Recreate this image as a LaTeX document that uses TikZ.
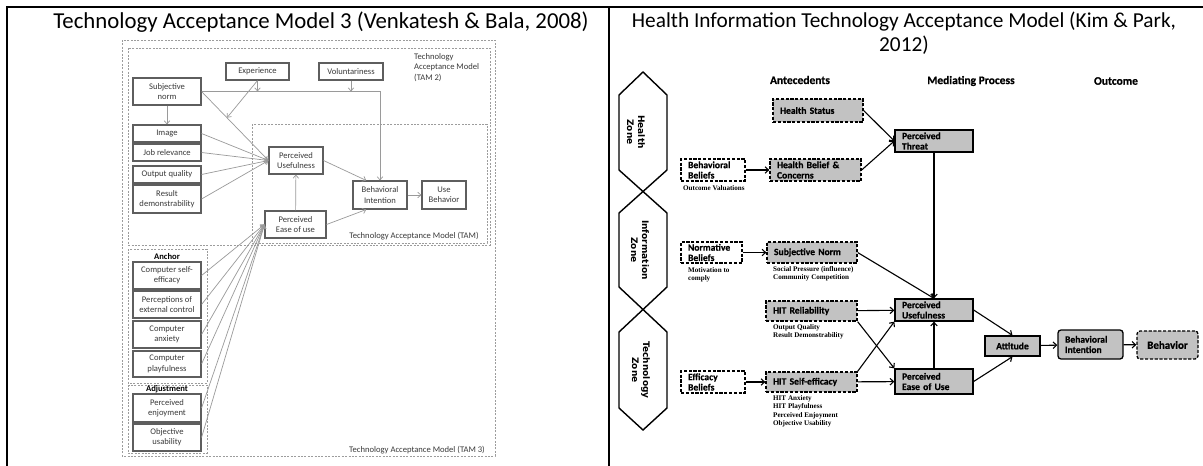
\documentclass[tikz,border=0pt]{standalone}
\usepackage{fontspec}
\setmainfont{Carlito}
\newfontfamily\subfont{Liberation Serif}
\newfontfamily\zonefont{DejaVu Sans}
\newfontfamily\boxfont{Carlito}[BoldFeatures={FakeBold=0.6}]
\usetikzlibrary{arrows.meta,calc}
\newcommand\myfs[2]{\fontsize{#1}{#2}\selectfont}
\definecolor{boxline}{HTML}{5E5E5E}
\definecolor{tamtext}{HTML}{3A3A3A}
\definecolor{grpline}{HTML}{9C9C9C}
\definecolor{arrline}{HTML}{9A9A9A}
\definecolor{hfill}{HTML}{C2C2C2}
% box given by its corners: name, x1, y1, x2, y2, style, text
\newcommand\rbox[7]{%
  \pgfmathsetmacro\bw{#4-#2}\pgfmathsetmacro\bh{#5-#3}%
  \pgfmathsetmacro\bx{(#2+#4)/2}\pgfmathsetmacro\by{(#3+#5)/2}%
  \pgfmathsetmacro\tw{#4-#2-14}%
  \node[#6, minimum width=\bw pt, minimum height=\bh pt] (#1) at (\bx,\by) {#7};}
\begin{document}
\begin{tikzpicture}[x=1pt,y=-1pt,
  tbox/.style={draw=boxline,line width=1.1pt,fill=white,text=tamtext,inner sep=0pt,align=center,font=\myfs{8.6}{10.4}},
  grp/.style={draw=grpline,line width=0.6pt,dash pattern=on 2pt off 1.4pt},
  glabel/.style={text=tamtext,inner sep=0pt,font=\myfs{8.6}{10.5}},
  garr/.style={draw=arrline,line width=0.7pt,-{Straight Barb[length=3.2pt,width=5.5pt]}},
  hbase/.style={draw=black,line width=1.3pt,inner sep=0pt,font=\boxfont\bfseries\myfs{9.6}{10.3}},
  dwhite/.style={hbase,fill=white,dash pattern=on 3.2pt off 1.6pt},
  dgray/.style={hbase,fill=hfill,dash pattern=on 3.2pt off 1.6pt},
  sgray/.style={hbase,fill=hfill},
  lft/.style={text width=\tw pt,inner xsep=7pt,align=left},
  ctr/.style={align=center},
  harr/.style={draw=black,line width=1.1pt,-{Straight Barb[length=3.5pt,width=6.5pt]}},
  sub/.style={inner sep=0pt,anchor=north west,align=left,font=\subfont\bfseries\myfs{7.1}{8.5}},
  head/.style={inner sep=0pt,font=\boxfont\bfseries\myfs{11.5}{13}},
  zone/.style={rotate=-90,align=center,inner sep=0pt,font=\zonefont\bfseries\myfs{9}{11}},
  title/.style={inner sep=0pt,align=center}]
\useasboundingbox (0,0) rectangle (1203,466);
\fill[white] (0,0) rectangle (1203,466);

% table rules
\draw[line width=1.3pt] (7,466) -- (7,7) -- (1203,7);
\draw[line width=1.3pt] (609,7) -- (609,466);

% titles
\node[title,font=\myfs{22.8}{24}] (t1) at (321,22) {Technology Acceptance Model 3 (Venkatesh \& Bala, 2008)};
\node[title,font=\myfs{21.3}{24}] (t2) at (904,33) {Health Information Technology Acceptance Model (Kim \& Park,\\2012)};

% ---------------- TAM 3 ----------------
\draw[grp] (122,40) rectangle (495,456);
\draw[grp] (128,48) rectangle (490,245);
\draw[grp] (252,124) rectangle (487,243);
\draw[grp] (128,249) rectangle (207,383);
\draw[grp] (128,385) rectangle (207,453);

\node[glabel,anchor=north west,align=left] (ltam2) at (414,53) {Technology\\Acceptance Model\\(TAM 2)};
\node[glabel] (ltam) at (414,236) {Technology Acceptance Model (TAM)};
\node[glabel] (ltam3) at (417,450) {Technology Acceptance Model (TAM 3)};
\node[glabel,text=black,font=\bfseries\myfs{8.6}{10.4}] (lanchor) at (167,257) {Anchor};
\node[glabel,text=black,font=\bfseries\myfs{8.6}{10.4}] (ladj) at (167,389) {Adjustment};

\rbox{sn}{133}{78}{201}{105}{tbox}{Subjective\\norm}
\rbox{exp}{226}{63}{289}{80}{tbox}{Experience}
\rbox{vol}{319}{63}{383}{80}{tbox}{Voluntariness}
\rbox{img}{133}{125}{201}{142}{tbox}{Image}
\rbox{job}{133}{144}{201}{161}{tbox}{Job relevance}
\rbox{out}{133}{166}{201}{183}{tbox}{Output quality}
\rbox{res}{133}{185}{201}{213}{tbox}{Result\\demonstrability}
\rbox{pu}{269}{147}{323}{174}{tbox}{Perceived\\Usefulness}
\rbox{peou}{265}{211}{326}{238}{tbox}{Perceived\\Ease of use}
\rbox{bi}{353}{181}{407}{209}{tbox}{Behavioral\\Intention}
\rbox{ub}{422}{181}{466}{209}{tbox}{Use\\Behavior}
\rbox{cse}{133}{262}{201}{289}{tbox}{Computer self-\\efficacy}
\rbox{pec}{133}{291}{201}{318}{tbox}{Perceptions of\\external control}
\rbox{ca}{133}{321}{201}{348}{tbox}{Computer\\anxiety}
\rbox{cp}{133}{351}{201}{377}{tbox}{Computer\\playfulness}
\rbox{pe}{133}{394}{201}{422}{tbox}{Perceived\\enjoyment}
\rbox{ou}{133}{424}{201}{451}{tbox}{Objective\\usability}

\coordinate (snbi) at (bi.north |- sn.east);
\coordinate (expm) at (exp.south |- sn.east);
\coordinate (volm) at (vol.south |- sn.east);
\coordinate (expd) at ($(sn.east)!0.38!(pu.west)$);
\draw[garr] (sn) -- (img);
\draw[garr] (sn.east) -- (pu.west);
\draw[garr] (sn.east) -- (snbi) -- (bi.north);
\draw[garr] (exp.south) -- (expm);
\draw[garr] (vol.south) -- (volm);
\draw[garr] (exp.south) -- (expd);
\foreach \n in {img,job,out,res} \draw[garr] (\n.east) -- (pu.west);
\draw[garr] (peou) -- (pu);
\draw[garr] (pu.east) -- ($(bi.north west)!0.25!(bi.north east)$);
\draw[garr] (peou.east) -- ($(bi.south west)!0.25!(bi.south east)$);
\draw[garr] (bi) -- (ub);
\foreach \n in {cse,pec,ca,cp,pe,ou} \draw[garr] (\n.east) -- (peou.west);

% ---------------- HITAM ----------------
\draw[line width=1.4pt,line join=miter] (643,72) -- (667,95) -- (667,170) -- (619,213) -- (619,287)
  -- (667,332) -- (667,408) -- (643,430) -- (619,408) -- (619,332) -- (667,287) -- (667,213)
  -- (619,170) -- (619,95) -- cycle;
\node[zone] (z1) at (636,132) {Health\\Zone};
\node[zone] (z2) at (640,250) {Information\\Zone};
\node[zone] (z3) at (641,370) {Technology\\Zone};

\node[head] (hant) at (800,80) {Antecedents};
\node[head] (hmed) at (971,81) {Mediating Process};
\node[head] (hout) at (1116,81) {Outcome};

\rbox{hs}{773}{99}{863}{122}{dgray,lft}{Health Status}
\rbox{bb}{681}{159}{745}{181}{dwhite,lft}{Behavioral\\Beliefs}
\rbox{hbc}{770}{159}{861}{181}{dgray,lft}{Health Belief \&\\Concerns}
\rbox{pt}{895}{130}{973}{152}{sgray,lft}{Perceived\\Threat}
\rbox{nb}{681}{242}{742}{263}{dwhite,lft}{Normative\\Beliefs}
\rbox{sntwo}{767}{242}{857}{263}{dgray,lft}{Subjective Norm}
\rbox{hr}{766}{301}{857}{321}{dgray,lft}{HIT Reliability}
\rbox{eb}{681}{371}{745}{393}{dwhite,lft}{Efficacy\\Beliefs}
\rbox{hse}{766}{372}{857}{392}{dgray,lft}{HIT Self-efficacy}
\rbox{putwo}{895}{299}{973}{321}{sgray,lft}{Perceived\\Usefulness}
\rbox{peoutwo}{895}{369}{973}{394}{sgray,lft}{Perceived\\Ease of Use}
\rbox{att}{985}{336}{1040}{356}{sgray,ctr}{Attitude}
\rbox{bitwo}{1058}{330}{1123}{359}{sgray,lft,rounded corners=3pt}{Behavioral\\Intention}
\rbox{beh}{1137}{331}{1198}{359}{dgray,ctr,rounded corners=3pt,font=\boxfont\bfseries\myfs{11}{12}}{Behavior}

\node[sub] (sov) at (683,185) {Outcome Valuations};
\node[sub] (smot) at (688,267) {Motivation to\\comply};
\node[sub] (ssp) at (773,266) {Social Pressure (influence)\\Community Competition};
\node[sub] (soq) at (773,324) {Output Quality\\Result Demonstrability};
\node[sub] (shse) at (773,395) {HIT Anxiety\\HIT Playfulness\\Perceived Enjoyment\\Objective Usability};

\draw[harr] (bb) -- (hbc);
\draw[harr] (hs.east) -- (pt.west);
\draw[harr] (hbc.east) -- (pt.west);
\draw[harr] (pt) -- (putwo);
\draw[harr] (nb) -- (sntwo);
\draw[harr] (sntwo.east) -- (putwo.north);
\draw[harr] (hr) -- (putwo);
\draw[harr] (hr.south east) -- (peoutwo.north west);
\draw[harr] (eb) -- (hse);
\draw[harr] (hse.north east) -- (putwo.south west);
\draw[harr] (hse) -- (peoutwo);
\draw[harr] (peoutwo) -- (putwo);
\draw[harr] (putwo.east) -- (att.north);
\draw[harr] (peoutwo.east) -- (att.south);
\draw[harr] (att) -- (bitwo);
\draw[harr] (bitwo) -- (beh);
\end{tikzpicture}
\end{document}
